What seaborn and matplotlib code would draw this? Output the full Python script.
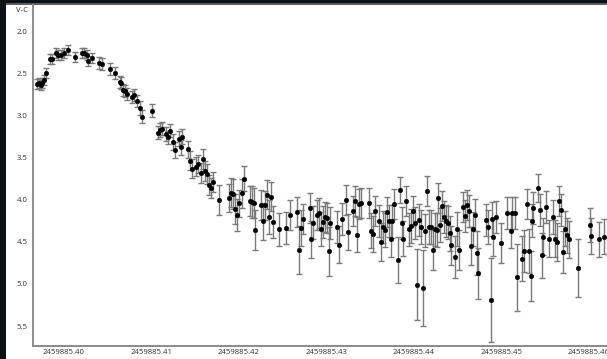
import numpy as np
import pandas as pd
import matplotlib
matplotlib.use("Agg")
import matplotlib.pyplot as plt
from matplotlib.patches import Rectangle
import seaborn as sns

jd_base = 2459885.0

t = [0.39691, 0.39714, 0.39737, 0.39752, 0.39771, 0.39791, 0.39843, 0.39866, 0.39912, 0.39935,
     0.39966, 0.39997, 0.40042, 0.40126, 0.40202, 0.40225, 0.40263, 0.40278, 0.40323, 0.40400,
     0.40431, 0.40522, 0.40583, 0.40637, 0.40652, 0.40674, 0.40697, 0.40720, 0.40781, 0.40804,
     0.40834, 0.40872, 0.40895, 0.41009, 0.41071, 0.41094, 0.41117, 0.41162, 0.41185, 0.41208,
     0.41246, 0.41269, 0.41314, 0.41337, 0.41352,
     0.41417, 0.41440, 0.41463, 0.41509, 0.41532, 0.41569, 0.41592, 0.41615, 0.41638, 0.41661,
     0.41684, 0.41707, 0.41775, 0.41883, 0.41905, 0.41935, 0.41951, 0.41974, 0.41997, 0.42035,
     0.42057, 0.42126, 0.42149, 0.42172, 0.42187, 0.42255, 0.42278, 0.42301, 0.42324, 0.42340,
     0.42363, 0.42385, 0.42454, 0.42537, 0.42583, 0.42660, 0.42689, 0.42712, 0.42735, 0.42812,
     0.42827, 0.42849, 0.42888, 0.42911, 0.42941, 0.42964, 0.42987, 0.43010, 0.43026,
     0.43040, 0.43117, 0.43140, 0.43178, 0.43223, 0.43246, 0.43307, 0.43330, 0.43352, 0.43375,
     0.43398, 0.43483, 0.43506, 0.43528, 0.43551, 0.43604, 0.43620, 0.43643, 0.43666, 0.43688,
     0.43711, 0.43734, 0.43749, 0.43772, 0.43818, 0.43840, 0.43863, 0.43878, 0.43909, 0.43940,
     0.43970, 0.43993, 0.44008, 0.44031, 0.44054, 0.44077, 0.44100, 0.44123, 0.44146, 0.44168,
     0.44191, 0.44214, 0.44237, 0.44260, 0.44275, 0.44298, 0.44320, 0.44343, 0.44366, 0.44389,
     0.44412, 0.44427, 0.44473, 0.44495, 0.44518, 0.44564, 0.44587, 0.44603, 0.44626, 0.44649,
     0.44672, 0.44695, 0.44718, 0.44733,
     0.44823, 0.44846, 0.44877, 0.44892, 0.44907, 0.44938, 0.44998, 0.45060, 0.45106, 0.45121,
     0.45152, 0.45181, 0.45235, 0.45258, 0.45289, 0.45312, 0.45334, 0.45349, 0.45364, 0.45418,
     0.45441, 0.45464, 0.45478, 0.45509, 0.45540, 0.45593, 0.45616, 0.45639, 0.45661, 0.45684,
     0.45700, 0.45723, 0.45746, 0.45769, 0.45875, 0.46012, 0.46027, 0.46118, 0.46172]

vc = [2.623, 2.611, 2.631, 2.611, 2.571, 2.492, 2.325, 2.318, 2.254, 2.274,
      2.270, 2.246, 2.214, 2.294, 2.246, 2.246, 2.270, 2.342, 2.306, 2.373,
      2.385, 2.437, 2.492, 2.595, 2.604, 2.690, 2.706, 2.738, 2.770, 2.754,
      2.818, 2.905, 3.008, 2.937, 3.199, 3.167, 3.151, 3.214, 3.254, 3.175,
      3.310, 3.405, 3.270, 3.373, 3.246,
      3.396, 3.532, 3.627, 3.604, 3.571, 3.675, 3.515, 3.651, 3.690, 3.818,
      3.857, 3.786, 4.000, 3.976, 3.913, 3.929, 4.111, 4.175, 4.039, 3.920,
      3.746, 4.015, 4.024, 4.032, 4.357, 4.063, 4.254, 4.063, 3.937, 4.206,
      3.961, 4.262, 4.349, 4.333, 4.182, 4.143, 4.595, 4.333, 4.223, 4.095,
      4.468, 4.270, 4.175, 4.158, 4.342, 4.262, 4.199, 4.214, 4.611,
      4.270, 4.318, 4.532, 4.230, 4.000, 4.381, 4.127, 4.015, 4.413, 4.048,
      4.032, 4.032, 4.365, 4.405, 4.127, 4.254, 4.500, 4.318, 4.357, 4.143,
      4.254, 4.461, 4.254, 4.048, 4.714, 3.881, 4.277, 4.461, 4.015, 4.349,
      4.310, 4.135, 4.277, 5.008, 4.238, 4.318, 5.048, 4.365, 3.889, 4.318,
      4.325, 4.595, 4.349, 4.357, 3.976, 4.301, 4.071, 4.199, 4.246, 4.270,
      4.396, 4.539, 4.675, 4.342, 4.595, 4.087, 4.190, 4.063, 4.135, 4.548,
      4.342, 4.182, 4.627, 4.873,
      4.238, 4.318, 5.190, 4.223, 4.444, 4.199, 4.515, 4.158, 4.365, 4.158,
      4.151, 4.920, 4.699, 4.604, 4.048, 4.611, 4.905, 4.246, 4.095, 3.857,
      4.119, 4.658, 4.437, 4.087, 4.461, 4.206, 4.461, 4.500, 4.008, 4.119,
      4.619, 4.342, 4.420, 4.468, 4.810, 4.301, 4.429, 4.468, 4.437]

err = [0.06, 0.06, 0.06, 0.06, 0.06, 0.06, 0.06, 0.06, 0.06, 0.06,
       0.06, 0.06, 0.06, 0.06, 0.06, 0.06, 0.06, 0.06, 0.06, 0.07,
       0.07, 0.07, 0.07, 0.07, 0.07, 0.07, 0.07, 0.07, 0.07, 0.07,
       0.07, 0.08, 0.08, 0.08, 0.08, 0.08, 0.08, 0.08, 0.08, 0.08,
       0.09, 0.09, 0.09, 0.09, 0.09,
       0.10, 0.11, 0.11, 0.11, 0.11, 0.12, 0.12, 0.12, 0.12, 0.12,
       0.12, 0.12, 0.18, 0.17, 0.17, 0.18, 0.18, 0.19, 0.16, 0.17,
       0.15, 0.18, 0.19, 0.18, 0.24, 0.18, 0.22, 0.17, 0.17, 0.20,
       0.17, 0.19, 0.20, 0.19, 0.18, 0.18, 0.29, 0.21, 0.18, 0.18,
       0.22, 0.20, 0.18, 0.18, 0.20, 0.19, 0.18, 0.18, 0.29,
       0.19, 0.19, 0.22, 0.19, 0.18, 0.21, 0.18, 0.18, 0.21, 0.18,
       0.18, 0.18, 0.21, 0.22, 0.18, 0.19, 0.23, 0.19, 0.20, 0.18,
       0.19, 0.22, 0.20, 0.18, 0.27, 0.16, 0.19, 0.21, 0.18, 0.20,
       0.20, 0.18, 0.19, 0.42, 0.19, 0.20, 0.45, 0.20, 0.18, 0.20,
       0.20, 0.24, 0.20, 0.20, 0.18, 0.20, 0.18, 0.19, 0.19, 0.20,
       0.21, 0.23, 0.25, 0.20, 0.24, 0.18, 0.19, 0.18, 0.19, 0.23,
       0.20, 0.19, 0.26, 0.30,
       0.19, 0.20, 0.50, 0.20, 0.22, 0.19, 0.24, 0.19, 0.21, 0.19,
       0.19, 0.40, 0.27, 0.25, 0.18, 0.26, 0.30, 0.20, 0.19, 0.17,
       0.19, 0.27, 0.22, 0.19, 0.22, 0.20, 0.22, 0.23, 0.18, 0.19,
       0.25, 0.21, 0.21, 0.22, 0.35, 0.20, 0.21, 0.21, 0.21]

xticks = [0.40, 0.41, 0.42, 0.43, 0.44, 0.45, 0.46]
yticks = [2.0, 2.5, 3.0, 3.5, 4.0, 4.5, 5.0, 5.5]

df = pd.DataFrame({"jd": np.array(t) + jd_base, "vc": vc, "err": err})

sns.set_style("white")
plt.rcParams["font.family"] = ["Open Sans", "DejaVu Sans"]

W, H = 607, 359
fig = plt.figure(figsize=(W / 100, H / 100), dpi=100)
fig.patch.set_facecolor("#0c1316")
fig.patches.append(Rectangle((6 / W, 0), 1, (H - 4) / H, transform=fig.transFigure,
                             facecolor="white", edgecolor="none", zorder=-10))
fig.patches.append(Rectangle((6 / W, (H - 4.6) / H), 1, 1.2 / H, transform=fig.transFigure,
                             facecolor="#5a5f62", edgecolor="none", zorder=-10))

ax = fig.add_axes([33 / W, 13 / H, (W - 33) / W, (346 - 5) / H])
ax.set_facecolor("white")
ax.set_zorder(1)

ax.errorbar(df["jd"], df["vc"], yerr=df["err"], fmt="none", ecolor="#7a7a7a",
            elinewidth=1.0, capsize=2.2, capthick=1.0, zorder=2)
sns.scatterplot(data=df, x="jd", y="vc", ax=ax, color="black", s=11,
                edgecolor="black", linewidth=0.3, zorder=3, legend=False)

ax.set_xlim(jd_base + 0.39646, jd_base + 0.46206)
ax.set_ylim(5.738, 1.679)
ax.set_xticks([jd_base + v for v in xticks])
ax.set_xticklabels([f"{jd_base + v:.2f}" for v in xticks])
ax.set_yticks(yticks)
ax.set_yticklabels([f"{v:.1f}" for v in yticks])
ax.tick_params(axis="both", length=0, labelsize=5.6, labelcolor="#333333")
ax.tick_params(axis="x", pad=2.5)
ax.tick_params(axis="y", pad=4)
ax.set_xlabel("")
ax.set_ylabel("")
for s in ["top", "right"]:
    ax.spines[s].set_visible(False)
for s in ["left", "bottom"]:
    ax.spines[s].set_color("#8a8a8a")
    ax.spines[s].set_linewidth(1.4)

fig.text(22 / W, 1 - 10 / H, "V-C", fontsize=5.6, color="#333333", ha="center", va="center",
         zorder=5)

fig.savefig("out.png", dpi=100)
